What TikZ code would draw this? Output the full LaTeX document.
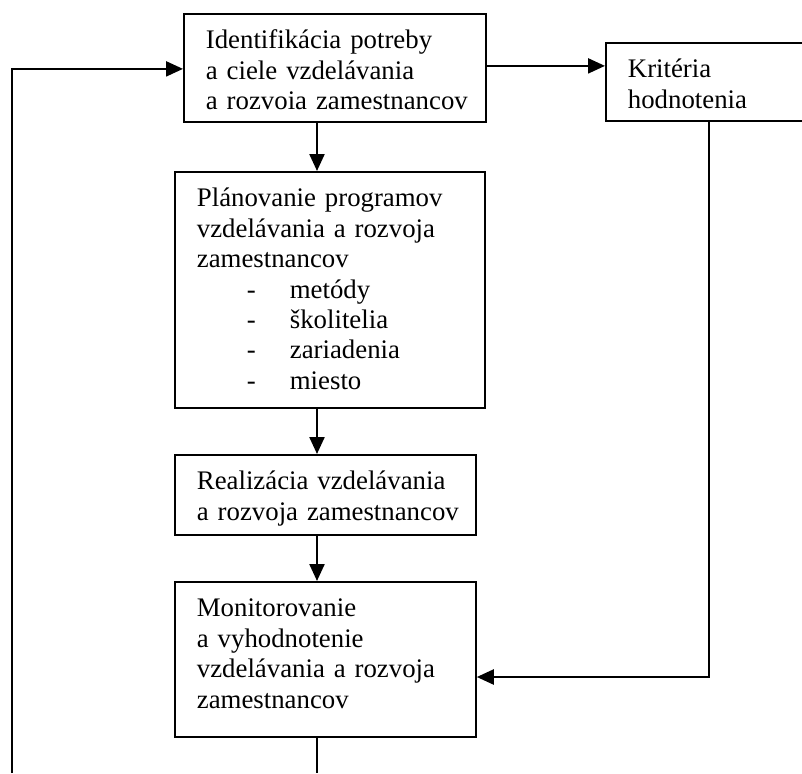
\documentclass[tikz,border=0pt]{standalone}
\usepackage{fontspec}
\setmainfont{Liberation Serif}
\usetikzlibrary{arrows.meta}

% text setting for the stage boxes
\newcommand{\stagefont}{\fontsize{26.8}{30.4}\selectfont}
% one unbreakable line of box text
\newcommand{\boxline}[1]{\mbox{#1}}
% list item inside the planning box: dash, then the item
\newcommand{\planitem}[1]{\mbox{\hspace*{50pt}\makebox[43pt][l]{-}#1}}

\tikzset{
  stage/.style={draw, line width=1.8pt, rectangle, anchor=north west,
    inner xsep=22pt, inner ysep=0pt, align=left,
    font=\stagefont, text height=35pt},
  conn/.style={line width=2.3pt, -{Triangle[length=17pt,width=15pt]}},
  plain/.style={line width=2.3pt},
}

\begin{document}
\begin{tikzpicture}[x=1pt,y=-1pt]
  \clip (0,0) rectangle (802,773);

  % process stages
  \node[stage, text width=258pt, text depth=73pt] (ident) at (183,13)
    {\boxline{Identifikácia potreby}\\\boxline{a ciele vzdelávania}\\\boxline{a rozvoia zamestnancov}};
  \node[stage, text width=161pt, text depth=43pt] (krit) at (605,42)
    {\boxline{Kritéria}\\\boxline{hodnotenia}};
  \node[stage, text width=266pt, text depth=201pt] (plan) at (174,171)
    {\boxline{Plánovanie programov}\\\boxline{vzdelávania a rozvoja}\\\boxline{zamestnancov}\\
     \planitem{metódy}\\\planitem{školitelia}\\\planitem{zariadenia}\\\planitem{miesto}};
  \node[stage, text width=257pt, text depth=45pt] (real) at (174,454)
    {\boxline{Realizácia vzdelávania}\\\boxline{a rozvoja zamestnancov}};
  \node[stage, text width=257pt, text depth=120pt] (monit) at (174,581)
    {\boxline{Monitorovanie}\\\boxline{a vyhodnotenie}\\\boxline{vzdelávania a rozvoja}\\\boxline{zamestnancov}};

  % routing points
  \coordinate (spine) at (317,0);
  \coordinate (loopin) at (12,773);
  \coordinate (spineout) at (317,773);
  \coordinate (fb) at (709,677);

  % main sequence
  \draw[conn] (ident.south -| spine) -- (plan.north -| spine);
  \draw[conn] (plan.south -| spine) -- (real.north -| spine);
  \draw[conn] (real.south -| spine) -- (monit.north -| spine);
  \draw[plain] (monit.south -| spine) -- (spineout);

  % criteria branch and feedback
  \draw[conn] ([yshift=2pt]ident.east) -- ([yshift=2pt]ident.east -| krit.west);
  \draw[conn] (krit.south -| fb) -- (fb) -- (fb -| monit.east);

  % return loop on the left
  \draw[conn] (loopin) |- ([yshift=-1pt]ident.west);
\end{tikzpicture}
\end{document}
